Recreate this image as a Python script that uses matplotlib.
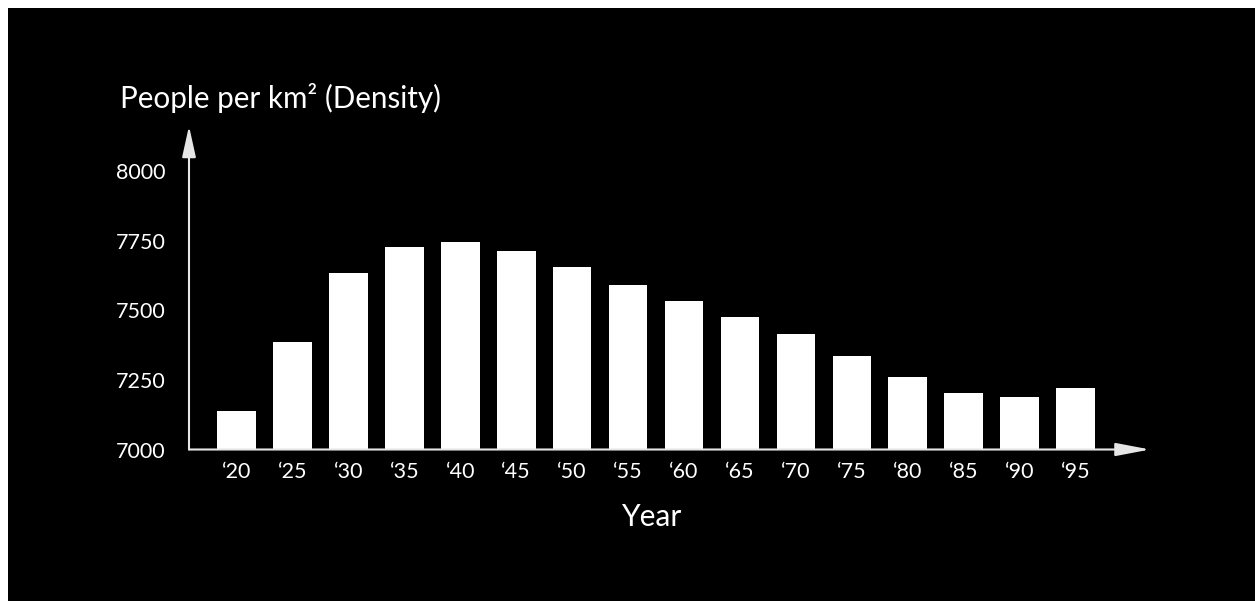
import matplotlib.pyplot as plt
import matplotlib.patches as patches

years = ["‘20", "‘25", "‘30", "‘35", "‘40", "‘45", "‘50", "‘55",
         "‘60", "‘65", "‘70", "‘75", "‘80", "‘85", "‘90", "‘95"]
density = [7140, 7385, 7635, 7730, 7745, 7715, 7655, 7590,
           7535, 7475, 7415, 7335, 7260, 7205, 7190, 7220]
y_ticks = [7000, 7250, 7500, 7750, 8000]

plt.rcParams['font.family'] = ['Lato', 'DejaVu Sans']

W, H = 1255, 601
fig = plt.figure(figsize=(W / 100, H / 100), dpi=100, facecolor='white')

# black panel with thin white border top/left
fig.patches.append(patches.Rectangle((8 / W, 0), 1, 1 - 8 / H, transform=fig.transFigure,
                                     facecolor='black', edgecolor='none', zorder=-10))

# axes placed in pixel coordinates
left, right = 189, 1150
top, bottom = 126, 449.5
ax = fig.add_axes([left / W, 1 - bottom / H, (right - left) / W, (bottom - top) / H])
ax.set_facecolor('none')
ax.set_zorder(5)

x = list(range(len(years)))
ax.bar(x, density, width=0.69, color='white', zorder=2)
ax.set_xlim(-0.85, 16.33)
ax.set_ylim(7000, 7000 + (bottom - top) * 3.597)

for s in ax.spines.values():
    s.set_visible(False)

ax.set_xticks(x)
ax.set_xticklabels(years)
ax.set_yticks(y_ticks)
ax.set_yticklabels([str(v) for v in y_ticks])
ax.tick_params(axis='both', length=0, colors='white', labelsize=15.5)
ax.tick_params(axis='x', pad=9)
ax.tick_params(axis='y', pad=17)

# axis arrows
line_col = '#e6e6e6'
ax.annotate('', xy=(0, 1), xytext=(0, 0), xycoords='axes fraction',
            arrowprops=dict(arrowstyle='-|>,head_length=19,head_width=4.2',
                            mutation_scale=1, color=line_col, lw=1.5,
                            shrinkA=0, shrinkB=0), zorder=3)
ax.annotate('', xy=(1, 0), xytext=(0, 0), xycoords='axes fraction',
            arrowprops=dict(arrowstyle='-|>,head_length=21,head_width=4.0',
                            mutation_scale=1, color=line_col, lw=1.5,
                            shrinkA=0, shrinkB=0), zorder=3)

fig.text(120 / W, 1 - 108 / H, "People per km² (Density)", color='white',
         fontsize=21.3, ha='left', va='baseline')
fig.text(652 / W, 1 - 526 / H, "Year", color='white',
         fontsize=21.5, ha='center', va='baseline')

fig.savefig('out.png', dpi=100, facecolor=fig.get_facecolor())
